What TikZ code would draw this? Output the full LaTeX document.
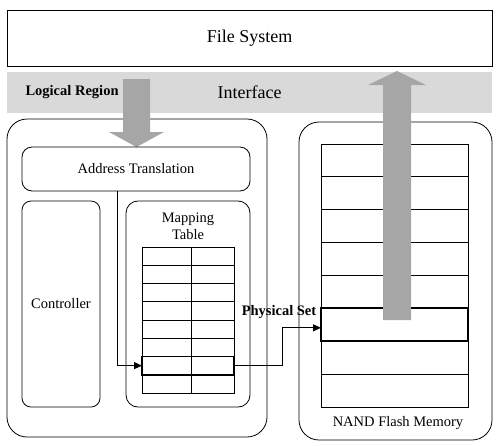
\documentclass[tikz,border=0pt]{standalone}
\usepackage{fontspec}
\setmainfont{Liberation Serif}
\usetikzlibrary{arrows.meta}
\definecolor{bandgray}{HTML}{D9D9D9}
\definecolor{arrowgray}{HTML}{A6A6A6}
\begin{document}
\begin{tikzpicture}[x=1pt,y=-1pt,
  big/.style={font=\fontsize{18}{21}\selectfont},
  txt/.style={font=\fontsize{14.5}{17}\selectfont},
  btxt/.style={font=\fontsize{14.5}{17}\selectfont\bfseries},
  blk/.style={draw, line width=0.8pt, inner sep=0pt, outer sep=0pt, anchor=north west},
  cell/.style={draw, line width=0.8pt, inner sep=0pt, outer sep=0pt, anchor=north west},
  selrow/.style={draw, line width=1.8pt, inner sep=0pt, outer sep=0pt, anchor=north west},
  garrow/.style={fill=arrowgray, draw=none},
  conn/.style={line width=0.9pt, -{Triangle[length=8pt,width=7pt]}}
]
\useasboundingbox (0,0) rectangle (502,445);
% file system
\node[blk, big, minimum width=485pt, minimum height=56pt] (fs) at (7,10) {File System};
% interface band
\node[fill=bandgray, big, inner sep=0pt, anchor=north west, minimum width=485pt, minimum height=41pt] (iface) at (7,72) {Interface};
\node[btxt, anchor=west] (lr) at (22,92) {Logical Region};
% outer boxes
\node[blk, rounded corners=20pt, minimum width=260pt, minimum height=318pt] (ctrlbox) at (7,119) {};
\node[blk, rounded corners=20pt, minimum width=193pt, minimum height=318pt] (nandbox) at (299,122) {};
% down arrow
\draw[garrow] (123,79) -- (150,79) -- (150,132) -- (164,132) -- (136.5,147) -- (109,132) -- (123,132) -- cycle;
% inner boxes
\node[blk, txt, rounded corners=10pt, minimum width=228pt, minimum height=44pt] (at) at (22,147) {Address Translation};
\node[blk, txt, rounded corners=9pt, minimum width=78pt, minimum height=206pt] (ctrl) at (22,201) {Controller};
\node[blk, rounded corners=12pt, minimum width=124pt, minimum height=206pt] (mapbox) at (126,201) {};
\node[txt, align=center, inner sep=0pt] (maptxt) at (188,226) {Mapping\\Table};
% mapping table rows
\foreach \i in {1,...,8} {
  \node[cell, minimum width=92pt, minimum height=18.25pt] (m\i) at (142,{247+(\i-1)*18.25}) {};
}
\draw[line width=0.8pt] ([xshift=3pt]m1.north) -- ([xshift=3pt]m8.south);
\node[selrow, minimum width=92pt, minimum height=18.25pt] (msel) at (142,{247+6*18.25}) {};
% nand rows
\foreach \i in {1,...,8} {
  \node[cell, minimum width=147pt, minimum height=32.875pt] (n\i) at (321,{144+(\i-1)*32.875}) {};
}
\node[selrow, minimum width=147pt, minimum height=32.875pt] (nsel) at (321,{144+5*32.875}) {};
\node[txt] (nandtxt) at (398,423) {NAND Flash Memory};
% up arrow
\draw[garrow] (383,320) -- (411,320) -- (411,85) -- (426,85) -- (397,71) -- (368,85) -- (383,85) -- cycle;
% connectors
\draw[conn] ([xshift=-19pt]at.south) |- (msel.west);
\draw[conn] (msel.east) -- ++(48,0) |- ([yshift=-3pt]nsel.west);
\node[btxt] (ps) at (279,312) {Physical Set};
\end{tikzpicture}
\end{document}
